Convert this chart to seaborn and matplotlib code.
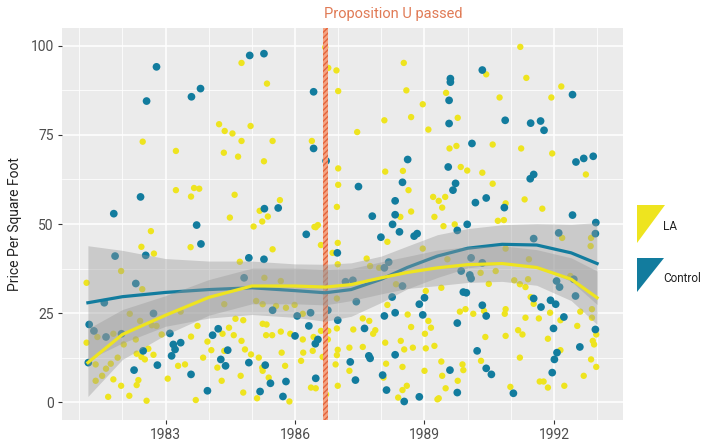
import numpy as np
import pandas as pd
import matplotlib
matplotlib.use('Agg')
import matplotlib.pyplot as plt
import matplotlib.transforms as mtransforms
from matplotlib.patches import Polygon
import seaborn as sns

#colours of the two groups
colors = {'LA': '#EEE41F', 'Control': '#127C9E'}

#points (year, price per square foot)
la_points = [
    (1984.76, 95.2), (1984.24, 78.0), (1984.37, 76.1), (1984.55, 75.4), (1984.97, 77.5), (1984.76, 73.3),
    (1982.47, 73.1), (1983.24, 70.5), (1984.35, 70.0), (1984.68, 68.9), (1983.24, 59.5), (1983.66, 60.1),
    (1983.78, 59.9), (1983.59, 57.7), (1984.60, 58.2), (1984.49, 51.8),
    (1986.70, 99.6), (1986.77, 93.8), (1986.96, 93.1), (1988.52, 95.2), (1985.35, 89.4), (1987.00, 87.3),
    (1988.58, 87.5), (1988.96, 83.6), (1988.69, 80.0), (1988.07, 79.1), (1989.09, 76.5), (1987.44, 75.8),
    (1985.48, 73.3), (1986.39, 73.3), (1985.28, 67.6), (1987.00, 65.6), (1988.09, 64.7), (1988.50, 64.9),
    (1987.00, 61.0), (1988.63, 59.5), (1985.65, 56.7), (1985.18, 53.7), (1985.37, 52.1), (1985.24, 50.7),
    (1986.97, 54.8), (1988.69, 53.5), (1989.20, 57.6), (1989.33, 56.5), (1989.23, 52.0), (1988.44, 52.0),
    (1986.53, 49.7), (1986.45, 49.2), (1985.04, 49.3),
    (1991.22, 99.7), (1990.43, 92.0), (1991.36, 91.0), (1992.17, 88.6), (1989.50, 86.8), (1990.74, 85.5),
    (1991.94, 85.5), (1989.77, 79.8), (1989.58, 71.2), (1989.74, 71.9), (1990.58, 72.3), (1991.24, 71.2),
    (1991.96, 69.8), (1989.84, 66.0), (1989.99, 65.0), (1990.34, 64.4), (1990.58, 61.3), (1992.74, 63.9),
    (1989.48, 57.6), (1989.41, 54.6), (1990.88, 55.8), (1991.32, 56.9), (1991.73, 54.3), (1989.70, 49.9),
    (1990.70, 50.9), (1990.84, 51.1),
    (1982.66, 48.0), (1982.44, 43.6), (1982.73, 41.7), (1983.58, 43.5), (1981.17, 33.5), (1981.97, 36.8),
    (1982.46, 31.7), (1982.17, 24.8), (1981.17, 16.7), (1981.42, 18.3), (1981.79, 19.2), (1982.41, 22.8),
    (1982.68, 21.6), (1982.79, 21.4), (1982.91, 19.0), (1983.35, 25.4), (1983.74, 21.4), (1983.59, 18.4),
    (1982.31, 17.6), (1982.03, 16.2), (1982.33, 13.6), (1982.44, 12.7), (1982.52, 12.0), (1982.72, 13.3),
    (1982.60, 15.0), (1981.89, 12.5), (1981.73, 10.8), (1981.62, 9.4), (1981.53, 7.4), (1981.38, 6.0),
    (1981.38, 10.6), (1981.79, 6.4), (1981.97, 4.6), (1982.37, 6.2), (1982.33, 4.8), (1981.67, 1.5),
    (1982.16, 1.8), (1982.56, 0.4), (1983.05, 6.6), (1983.29, 10.2), (1983.45, 10.6), (1983.70, 0.6),
    (1983.87, 12.5), (1983.97, 17.0), (1984.06, 14.6), (1984.32, 19.2), (1984.36, 14.4), (1984.47, 20.9),
    (1984.58, 18.8), (1984.62, 23.4), (1984.80, 23.0), (1984.76, 17.2), (1984.84, 14.8), (1984.20, 9.7),
    (1984.30, 6.0), (1984.74, 7.4), (1984.80, 2.7), (1984.36, 27.5), (1984.72, 39.4),
    (1986.48, 49.1), (1985.48, 42.9), (1986.60, 44.1), (1986.99, 44.7), (1986.87, 41.9), (1986.99, 38.7),
    (1988.14, 45.0), (1988.96, 43.1), (1987.66, 40.3), (1987.74, 38.2), (1987.95, 37.7), (1988.34, 33.1),
    (1989.03, 31.2), (1985.29, 34.9), (1985.67, 34.0), (1985.10, 28.4), (1985.25, 27.5), (1985.56, 27.0),
    (1985.79, 26.5), (1985.99, 27.3), (1986.18, 24.8), (1986.97, 29.1), (1985.25, 22.0), (1985.34, 21.8),
    (1985.33, 18.8), (1985.47, 18.8), (1985.67, 19.8), (1985.89, 19.2), (1986.18, 17.6), (1986.43, 18.3),
    (1986.60, 20.0), (1986.77, 20.0), (1986.97, 20.7), (1986.76, 17.6), (1987.35, 20.4), (1987.57, 23.5),
    (1987.72, 22.8), (1987.86, 20.2), (1987.81, 19.2), (1988.14, 27.3), (1988.61, 24.6), (1989.09, 22.8),
    (1989.15, 20.9), (1989.01, 19.2), (1988.69, 21.1), (1988.45, 17.2), (1988.09, 16.7), (1989.03, 15.1),
    (1988.53, 14.8), (1988.73, 15.3), (1989.23, 15.8), (1987.57, 15.5), (1987.26, 15.3), (1986.99, 14.7),
    (1986.97, 13.2), (1986.41, 14.4), (1986.19, 13.9), (1986.14, 11.6), (1985.69, 13.9), (1984.98, 13.4),
    (1985.16, 12.5), (1985.24, 9.7), (1985.25, 8.8), (1985.39, 6.9), (1985.77, 10.2), (1986.64, 12.7),
    (1986.94, 10.6), (1987.26, 8.8), (1986.99, 4.6), (1986.37, 4.1), (1986.48, 3.9), (1986.72, 2.2),
    (1985.87, 0.2), (1985.12, 1.1), (1988.11, 10.8), (1988.49, 9.9), (1988.59, 4.6), (1988.49, 3.4),
    (1988.39, 1.3), (1989.00, 8.8), (1989.30, 0.8), (1988.05, 6.9),
    (1989.44, 49.4), (1992.19, 46.1), (1992.86, 46.1), (1992.85, 43.8), (1990.88, 43.1), (1991.42, 40.1),
    (1989.53, 40.1), (1990.30, 36.3), (1990.65, 36.8), (1989.39, 32.1), (1990.49, 33.2), (1991.08, 34.2),
    (1991.21, 33.1), (1991.40, 34.5), (1991.34, 32.3), (1992.38, 35.4), (1992.61, 25.4), (1992.88, 26.1),
    (1992.88, 23.7), (1991.46, 29.5), (1991.53, 27.6), (1989.82, 25.4), (1989.95, 26.1), (1990.13, 24.8),
    (1990.38, 25.6), (1990.88, 26.1), (1990.86, 24.8), (1991.34, 23.7), (1991.65, 23.5), (1991.91, 25.1),
    (1992.15, 23.0), (1992.54, 21.4), (1992.98, 19.0), (1992.90, 17.2), (1992.93, 16.2), (1990.41, 18.3),
    (1990.88, 18.6), (1991.17, 20.2), (1991.27, 19.0), (1991.86, 17.8), (1992.15, 14.6), (1991.21, 12.5),
    (1990.31, 11.6), (1992.86, 12.0), (1992.98, 9.9), (1992.69, 7.4), (1989.39, 11.4), (1989.88, 10.6),
    (1989.90, 9.0), (1989.41, 7.4), (1989.77, 6.0), (1989.49, 3.9), (1989.33, 1.1), (1991.67, 5.8),
    (1991.76, 5.8), (1991.86, 4.1), (1992.24, 4.6), (1990.99, 4.3),
]

ctrl_points = [
    (1982.79, 94.1), (1982.56, 84.5), (1983.60, 85.7), (1983.81, 88.0), (1984.95, 97.3), (1982.42, 57.6),
    (1981.80, 52.9), (1983.72, 49.7),
    (1985.28, 97.8), (1986.43, 87.1), (1986.43, 71.2), (1986.72, 67.7), (1988.61, 68.1), (1987.47, 60.5),
    (1988.49, 61.7), (1988.32, 56.5), (1985.29, 54.3), (1985.61, 54.5), (1987.79, 52.2), (1988.32, 52.6),
    (1988.26, 49.9),
    (1990.34, 93.2), (1989.60, 90.8), (1989.60, 89.8), (1989.57, 84.7), (1989.57, 78.2), (1990.87, 79.1),
    (1991.46, 78.3), (1991.69, 78.9), (1991.77, 76.3), (1992.43, 86.3), (1990.10, 72.6), (1989.55, 66.0),
    (1992.51, 67.4), (1992.69, 68.4), (1992.91, 69.0), (1991.53, 63.9), (1991.45, 62.7), (1989.72, 61.4),
    (1989.66, 59.5), (1990.18, 56.0), (1990.43, 57.3), (1990.85, 54.6), (1992.43, 52.5), (1992.97, 50.4),
    (1989.99, 49.9),
    (1983.82, 44.4), (1982.54, 41.2), (1981.83, 41.0), (1982.31, 33.3), (1981.58, 27.9), (1982.72, 24.9),
    (1981.23, 21.8), (1981.34, 20.0), (1981.62, 18.3), (1981.98, 19.2), (1983.10, 19.3), (1983.18, 16.2),
    (1983.22, 14.8), (1983.14, 13.0), (1983.35, 16.7), (1981.21, 11.1), (1982.48, 14.4), (1982.27, 9.0),
    (1982.81, 10.4), (1983.59, 7.8), (1984.09, 18.8), (1984.22, 20.6), (1984.44, 14.6), (1984.28, 12.0),
    (1984.39, 10.2), (1983.97, 3.2), (1984.93, 11.1), (1984.82, 34.9), (1984.93, 40.5),
    (1986.26, 47.1), (1987.99, 46.3), (1988.42, 47.8), (1988.76, 46.6), (1988.83, 47.3), (1986.98, 41.9),
    (1985.28, 40.1), (1987.17, 33.8), (1987.34, 34.2), (1988.17, 39.3), (1988.07, 37.7), (1988.49, 32.6),
    (1988.25, 29.5), (1989.00, 29.3), (1988.88, 27.5), (1987.42, 28.2), (1985.48, 25.8), (1986.05, 24.2),
    (1986.36, 25.1), (1986.76, 25.8), (1988.07, 24.2), (1988.32, 25.1), (1988.96, 24.5), (1986.99, 23.0),
    (1986.32, 21.4), (1986.00, 18.6), (1986.53, 17.6), (1986.47, 16.4), (1987.61, 20.7), (1987.71, 13.0),
    (1987.74, 12.3), (1988.32, 13.3), (1987.28, 11.3), (1985.31, 10.4), (1986.48, 6.7), (1985.43, 5.3),
    (1985.79, 5.8), (1987.40, 6.2), (1988.03, 7.6), (1985.19, 3.0), (1985.72, 1.6), (1988.12, 3.4),
    (1988.53, 0.2), (1988.88, 1.5),
    (1989.76, 48.2), (1991.53, 45.9), (1992.11, 47.5), (1992.96, 47.3), (1990.08, 40.5), (1990.34, 39.1),
    (1989.85, 36.8), (1990.05, 35.7), (1990.08, 34.7), (1992.06, 34.0), (1992.13, 32.3), (1992.46, 34.5),
    (1992.50, 29.8), (1989.90, 30.9), (1989.97, 30.7), (1991.53, 29.1), (1991.70, 26.7), (1991.92, 28.6),
    (1992.04, 27.5), (1992.23, 23.9), (1990.34, 27.2), (1990.43, 24.2), (1989.76, 22.2), (1991.99, 20.7),
    (1992.96, 20.4), (1992.60, 15.5), (1990.22, 14.4), (1992.07, 13.9), (1992.01, 12.0), (1989.59, 9.0),
    (1990.43, 9.5), (1990.55, 7.8), (1991.96, 8.3), (1989.76, 2.7), (1991.06, 2.5),
]

#smoothed trend and its band
smooth_year = [1981.2, 1982.0, 1983.0, 1984.0, 1985.0, 1986.0, 1986.7, 1987.3,
               1988.0, 1988.6, 1989.3, 1990.0, 1990.8, 1991.6, 1992.4, 1993.0]
ctrl_fit = [27.9, 29.6, 30.8, 31.6, 32.1, 31.3, 30.7, 31.6, 34.5, 37.8, 41.0, 43.2, 44.3, 44.1, 41.9, 38.9]
ctrl_se = [16.0, 13.0, 9.5, 8.0, 7.5, 7.5, 8.0, 7.5, 6.5, 6.0, 6.0, 5.5, 5.5, 6.0, 8.0, 11.5]
la_fit = [11.1, 19.0, 24.4, 29.4, 32.6, 32.6, 32.3, 33.0, 34.9, 36.4, 37.7, 38.6, 38.9, 37.8, 34.5, 29.3]
la_se = [9.5, 7.0, 5.5, 5.0, 5.0, 5.0, 5.0, 4.5, 4.5, 4.5, 5.0, 5.0, 5.0, 5.0, 6.0, 7.5]

prop_u_year = 1986.7
x_breaks = [1983, 1986, 1989, 1992]
x_minor = [1981, 1982, 1984, 1985, 1987, 1988, 1990, 1991, 1993]
y_breaks = [0, 25, 50, 75, 100]
y_minor = [12.5, 37.5, 62.5, 87.5]

df_la = pd.DataFrame(la_points, columns=['year', 'price'])
df_la['group'] = 'LA'
df_ctrl = pd.DataFrame(ctrl_points, columns=['year', 'price'])
df_ctrl['group'] = 'Control'
df = pd.concat([df_la, df_ctrl], ignore_index=True)

plt.rcParams['font.family'] = ['Roboto', 'DejaVu Sans']

fig = plt.figure(figsize=(7.02, 4.47), dpi=100)
ax = fig.add_axes([62/702, 1-420/447, (623-62)/702, (420-28)/447])
ax.set_facecolor('#EBEBEB')
ax.set_axisbelow(True)

#points
sns.scatterplot(data=df, x='year', y='price', hue='group', palette=colors,
                size='group', sizes={'LA': 21, 'Control': 31},
                linewidth=0, alpha=1, legend=False, ax=ax, zorder=2)

#proposition U line
ax.axvspan(prop_u_year - 0.055, prop_u_year + 0.055, facecolor='#F4A483', edgecolor='#E4643C',
           hatch='//////', linewidth=0, zorder=2.5)
trans = mtransforms.blended_transform_factory(ax.transData, ax.transAxes)
ax.text(prop_u_year - 0.04, 1.026, 'Proposition U passed', transform=trans, color='#E07A55',
        fontsize=10.5, ha='left', va='baseline')

#smooths: Control first, then LA on top
for fit, se, grp in [(ctrl_fit, ctrl_se, 'Control'), (la_fit, la_se, 'LA')]:
    fit = np.array(fit)
    se = np.array(se)
    ax.fill_between(smooth_year, fit - se, fit + se, color='#999999', alpha=0.4, linewidth=0, zorder=3)
    sns.lineplot(x=smooth_year, y=fit, color=colors[grp], linewidth=2.3, ax=ax, zorder=3)

ax.set_xlim(1980.6, 1993.6)
ax.set_ylim(-5, 105)
ax.set_xticks(x_breaks)
ax.set_xticks(x_minor, minor=True)
ax.set_yticks(y_breaks)
ax.set_yticks(y_minor, minor=True)
ax.grid(which='major', color='white', linewidth=1.1)
ax.grid(which='minor', color='white', linewidth=0.55)
ax.tick_params(which='major', length=3, width=0.8, color='#333333', labelcolor='#4D4D4D',
               labelsize=10, pad=3)
ax.tick_params(which='minor', length=0)
for s in ax.spines.values():
    s.set_visible(False)
ax.set_xlabel('')
ax.set_ylabel('Price Per Square Foot', fontsize=10, color='#222222', labelpad=6)

#legend made of triangles
def px(x, y):
    return (x / 702, 1 - y / 447)

fig.patches.append(Polygon([px(637, 205), px(665, 205), px(637, 243)], closed=True,
                           facecolor=colors['LA'], edgecolor='none', transform=fig.transFigure))
fig.patches.append(Polygon([px(637, 258), px(664, 258), px(637, 292)], closed=True,
                           facecolor=colors['Control'], edgecolor='none', transform=fig.transFigure))
fig.text(663/702, 1 - 227/447, 'LA', fontsize=8.5, color='#222222', va='center', ha='left')
fig.text(663/702, 1 - 278/447, 'Control', fontsize=8.5, color='#222222', va='center', ha='left')

fig.savefig('out.png', dpi=100)
